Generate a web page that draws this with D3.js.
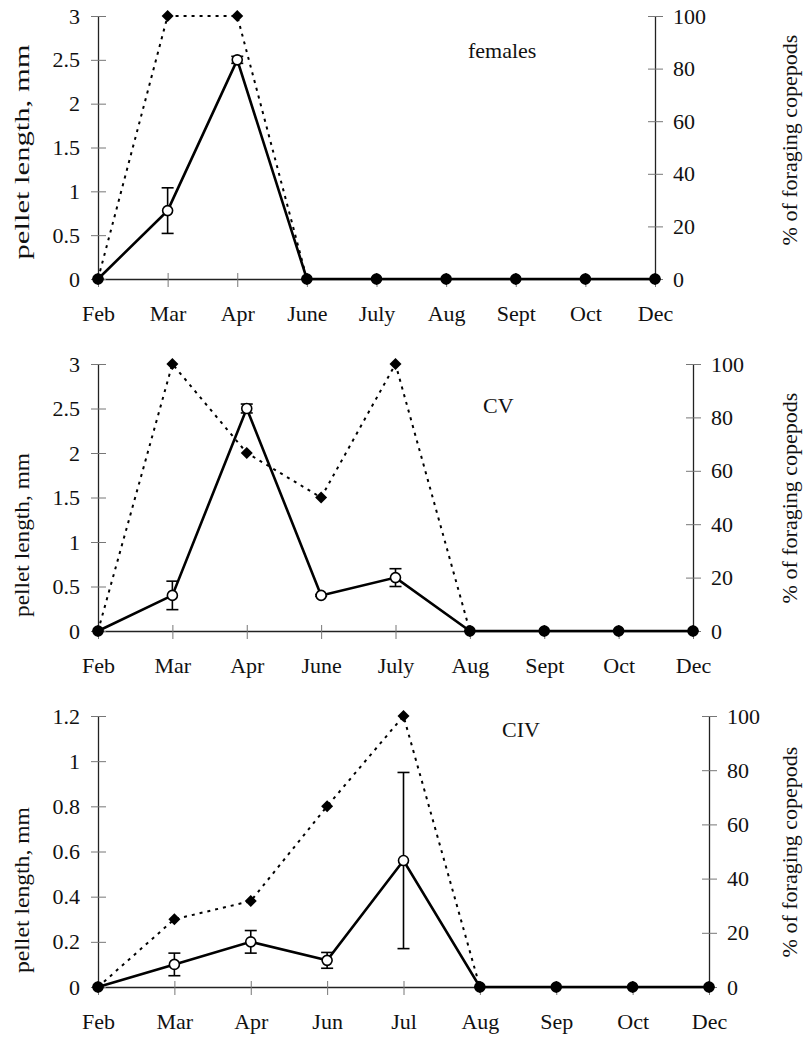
<!DOCTYPE html>
<html>
<head>
<meta charset="utf-8">
<script src="https://cdn.jsdelivr.net/npm/d3@7"></script>
<style>
  body { margin: 0; background: #fff; }
  svg { display: block; font-family: "Liberation Serif", "Times New Roman", serif; }
</style>
</head>
<body>
<svg id="chart" width="811" height="1038"></svg>
<script>
// females
const months1 = ["Feb", "Mar", "Apr", "June", "July", "Aug", "Sept", "Oct", "Dec"];
const pellet1 = [0, 0.78, 2.5, 0, 0, 0, 0, 0, 0];
const pelletErr1 = [0, 0.26, 0.04, 0, 0, 0, 0, 0, 0];
const foraging1 = [0, 100, 100, 0, 0, 0, 0, 0, 0];
const leftTicks1 = [0, 0.5, 1, 1.5, 2, 2.5, 3];

// CV
const months2 = ["Feb", "Mar", "Apr", "June", "July", "Aug", "Sept", "Oct", "Dec"];
const pellet2 = [0, 0.4, 2.5, 0.4, 0.6, 0, 0, 0, 0];
const pelletErr2 = [0, 0.16, 0.05, 0.01, 0.1, 0, 0, 0, 0];
const foraging2 = [0, 100, 66.7, 50, 100, 0, 0, 0, 0];
const leftTicks2 = [0, 0.5, 1, 1.5, 2, 2.5, 3];

// CIV
const months3 = ["Feb", "Mar", "Apr", "Jun", "Jul", "Aug", "Sep", "Oct", "Dec"];
const pellet3 = [0, 0.1, 0.2, 0.118, 0.56, 0, 0, 0, 0];
const pelletErr3 = [0, 0.05, 0.05, 0.035, 0.39, 0, 0, 0, 0];
const foraging3 = [0, 25, 31.7, 66.7, 100, 0, 0, 0, 0];
const leftTicks3 = [0, 0.2, 0.4, 0.6, 0.8, 1, 1.2];

const rightTicks = [0, 20, 40, 60, 80, 100];
const leftLabel = "pellet length, mm";
const rightLabel = "% of foraging copepods";

const svg = d3.select("#chart");
const FONT = 22;
const fmt = d3.format("~g");

function drawPanel(p) {
    const x = d3.scalePoint().domain(p.months).range([p.left, p.right]);
    const yL = d3.scaleLinear().domain([0, p.leftMax]).range([p.bottom, p.top]);
    const yR = d3.scaleLinear().domain([0, 100]).range([p.bottom, p.top]);

    const g = svg.append("g");

    // axes
    const styleAxis = sel => {
        sel.attr("font-family", null).attr("font-size", FONT);
        sel.select(".domain").attr("stroke", "#222").attr("stroke-width", 1.3);
        sel.selectAll("text").attr("fill", "#111");
    };

    const gx = g.append("g")
        .attr("transform", `translate(0,${p.bottom})`)
        .call(d3.axisBottom(x).tickSize(0).tickPadding(26));
    styleAxis(gx);
    gx.selectAll(".tick line").attr("y1", -6).attr("y2", 8).attr("stroke", "#777");

    const gl = g.append("g")
        .attr("transform", `translate(${p.left},0)`)
        .call(d3.axisLeft(yL).tickValues(p.leftTicks).tickFormat(fmt).tickSize(0).tickPadding(18));
    styleAxis(gl);
    gl.selectAll(".tick line").attr("x1", -7).attr("x2", 8).attr("stroke", "#777");

    const gr = g.append("g")
        .attr("transform", `translate(${p.right},0)`)
        .call(d3.axisRight(yR).tickValues(rightTicks).tickSize(0).tickPadding(18));
    styleAxis(gr);
    gr.selectAll(".tick line").attr("x1", -7).attr("x2", 8).attr("stroke", "#777");

    // axis titles
    g.append("text")
        .attr("transform", `translate(29,${p.leftMid}) rotate(-90)`)
        .attr("text-anchor", "middle")
        .attr("font-size", FONT)
        .attr("fill", "#111")
        .attr("textLength", p.leftLen)
        .attr("lengthAdjust", "spacingAndGlyphs")
        .text(leftLabel);

    g.append("text")
        .attr("transform", `translate(797,${p.rightMid}) rotate(-90)`)
        .attr("text-anchor", "middle")
        .attr("font-size", FONT)
        .attr("fill", "#111")
        .text(rightLabel);

    g.append("text")
        .attr("x", p.titleX)
        .attr("y", p.titleY)
        .attr("font-size", FONT)
        .attr("fill", "#111")
        .text(p.title);

    const pts = p.months.map((m, i) => ({
        m: m, v: p.pellet[i], e: p.err[i], f: p.foraging[i]
    }));

    // error bars
    const eb = g.append("g").attr("stroke", "#000").attr("stroke-width", 1.6);
    pts.filter(d => d.e > 0).forEach(d => {
        const cx = x(d.m), y1 = yL(d.v - d.e), y2 = yL(d.v + d.e);
        eb.append("line").attr("x1", cx).attr("x2", cx).attr("y1", y1).attr("y2", y2);
        eb.append("line").attr("x1", cx - 6).attr("x2", cx + 6).attr("y1", y1).attr("y2", y1);
        eb.append("line").attr("x1", cx - 6).attr("x2", cx + 6).attr("y1", y2).attr("y2", y2);
    });

    // pellet length line
    g.append("path")
        .datum(pts)
        .attr("fill", "none")
        .attr("stroke", "#000")
        .attr("stroke-width", 2.6)
        .attr("d", d3.line().x(d => x(d.m)).y(d => yL(d.v)));

    // foraging line (dotted)
    g.append("path")
        .datum(pts)
        .attr("fill", "none")
        .attr("stroke", "#000")
        .attr("stroke-width", 2)
        .attr("stroke-dasharray", "3,5")
        .attr("d", d3.line().x(d => x(d.m)).y(d => yR(d.f)));

    g.selectAll("circle.pl")
        .data(pts)
        .join("circle")
        .attr("class", "pl")
        .attr("cx", d => x(d.m))
        .attr("cy", d => yL(d.v))
        .attr("r", 5)
        .attr("fill", d => d.v === 0 ? "#000" : "#fff")
        .attr("stroke", "#000")
        .attr("stroke-width", 1.6);

    g.selectAll("path.fg")
        .data(pts)
        .join("path")
        .attr("class", "fg")
        .attr("transform", d => `translate(${x(d.m)},${yR(d.f)})`)
        .attr("d", "M0,-6L6,0L0,6L-6,0Z")
        .attr("fill", "#000");
}

drawPanel({
    months: months1, pellet: pellet1, err: pelletErr1, foraging: foraging1,
    leftTicks: leftTicks1, leftMax: 3,
    left: 98, right: 655, top: 16, bottom: 279,
    leftMid: 152, leftLen: 215, rightMid: 140,
    title: "females", titleX: 468, titleY: 58
});

drawPanel({
    months: months2, pellet: pellet2, err: pelletErr2, foraging: foraging2,
    leftTicks: leftTicks2, leftMax: 3,
    left: 98, right: 693, top: 364, bottom: 631,
    leftMid: 535, leftLen: 164, rightMid: 498,
    title: "CV", titleX: 483, titleY: 413
});

drawPanel({
    months: months3, pellet: pellet3, err: pelletErr3, foraging: foraging3,
    leftTicks: leftTicks3, leftMax: 1.2,
    left: 98, right: 709, top: 716, bottom: 987,
    leftMid: 890, leftLen: 166, rightMid: 852,
    title: "CIV", titleX: 502, titleY: 737
});
</script>
</body>
</html>
